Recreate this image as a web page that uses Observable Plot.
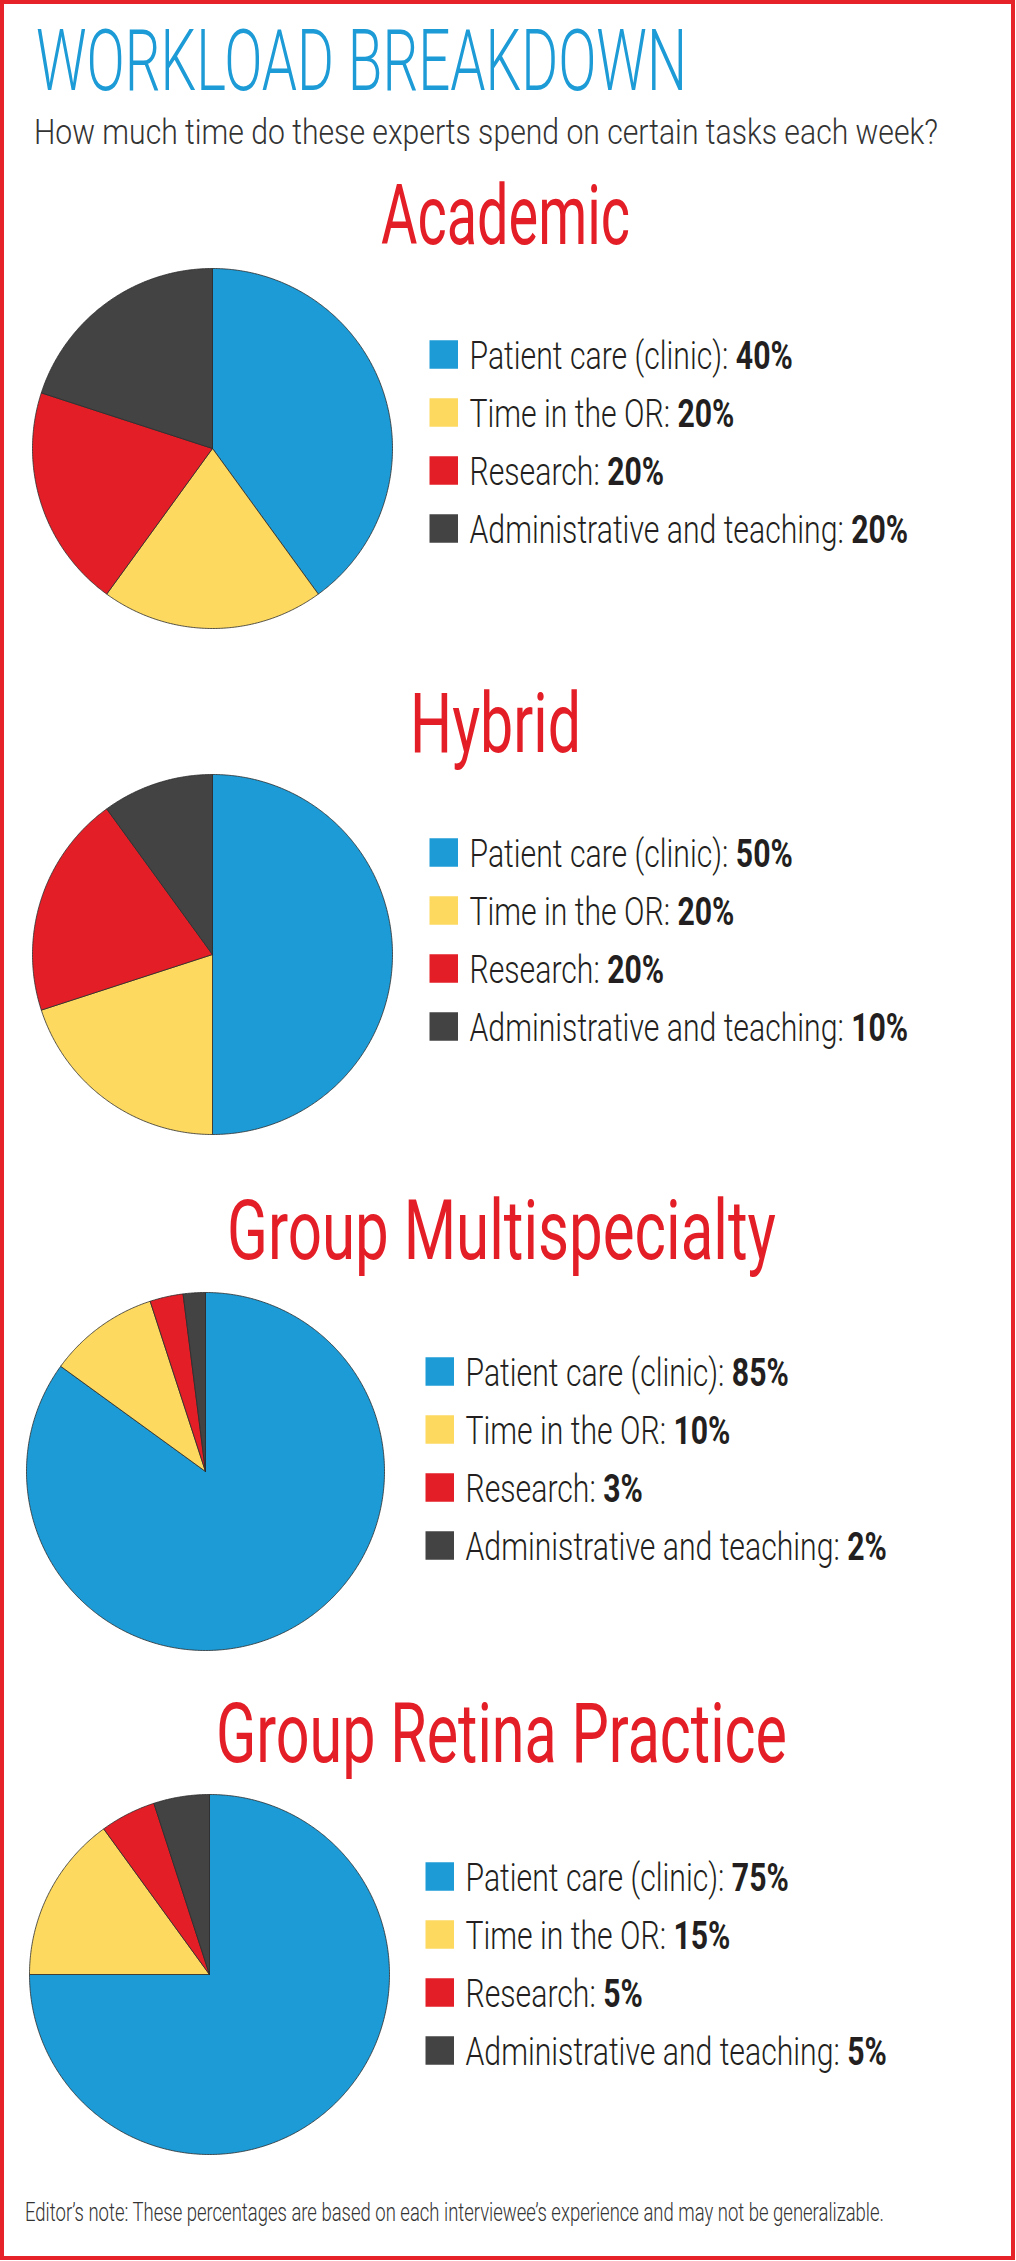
<!DOCTYPE html>
<html>
<head>
<meta charset="utf-8">
<script src="https://cdn.jsdelivr.net/npm/d3@7"></script>
<script src="https://cdn.jsdelivr.net/npm/@observablehq/plot@0.6"></script>
<style>
  html, body { margin: 0; padding: 0; background: #fff; }
  #page { position: relative; width: 1016px; height: 2261px; overflow: hidden; background: #fff; font-family: Roboto, "Noto Sans", sans-serif; }
  .txt { position: absolute; white-space: nowrap; line-height: 1; transform-origin: 0 0; font-family: Roboto, sans-serif; }
  .plotbox { position: absolute; }
  .plotbox svg { display: block; overflow: visible; background: transparent; }
  #frame { position: absolute; left: 0; top: 0; width: 1015px; height: 2260px; box-sizing: border-box; border: 4px solid #e52329; pointer-events: none; }
</style>
</head>
<body>
<div id="page"><div id="frame"></div></div>
<script>
// ---------------- data ----------------
const title = "WORKLOAD BREAKDOWN";
const subtitle = "How much time do these experts spend on certain tasks each week?";
const note = "Editor\u2019s note: These percentages are based on each interviewee\u2019s experience and may not be generalizable.";
const practices = ["Academic", "Hybrid", "Group Multispecialty", "Group Retina Practice"];
const tasks = ["Patient care (clinic)", "Time in the OR", "Research", "Administrative and teaching"];
const academic = [40, 20, 20, 20];
const hybrid = [50, 20, 20, 10];
const groupMultispecialty = [85, 10, 3, 2];
const groupRetina = [75, 15, 5, 5];
const taskColors = ["#1c9bd6", "#fdd95f", "#e41e26", "#434343"];

// ---------------- layout ----------------
const sections = [
  { name: practices[0], values: academic, titleLeft: 381, titleWidth: 249, titleBaseline: 245, cx: 212, cy: 448, r: 180, legendX: 429, row0: 354 },
  { name: practices[1], values: hybrid, titleLeft: 410, titleWidth: 171, titleBaseline: 753, cx: 212, cy: 954, r: 180, legendX: 429, row0: 852 },
  { name: practices[2], values: groupMultispecialty, titleLeft: 227, titleWidth: 549, titleBaseline: 1260, cx: 205, cy: 1471, r: 179, legendX: 425, row0: 1371 },
  { name: practices[3], values: groupRetina, titleLeft: 216, titleWidth: 571, titleBaseline: 1763, cx: 209, cy: 1974, r: 180, legendX: 425, row0: 1876 }
];
const rowStep = 58;
const legendFont = 38;
const legendSqueeze = 0.795;
const textColor = "#231f20";

const page = document.getElementById("page");
const frame = document.getElementById("frame");

function addText(str, { left, baseline, size, weight, color, width }) {
  const el = document.createElement("div");
  el.className = "txt";
  el.textContent = str;
  el.style.fontSize = size + "px";
  el.style.fontWeight = weight;
  el.style.color = color;
  el.style.top = (baseline - 0.842 * size) + "px";
  el.style.left = left + "px";
  page.insertBefore(el, frame);
  const w = el.getBoundingClientRect().width;
  el.style.transform = `scaleX(${width / w})`;
  return el;
}

function piePlot(values, r) {
  const total = d3.sum(values);
  const pts = [];
  let acc = 0;
  values.forEach((v, i) => {
    const a0 = acc / total * 2 * Math.PI;
    acc += v;
    const a1 = acc / total * 2 * Math.PI;
    const n = Math.max(2, Math.ceil((a1 - a0) / (Math.PI / 360)));
    pts.push({ task: tasks[i], x: 0, y: 0 });
    for (let j = 0; j <= n; j++) {
      const a = a0 + (a1 - a0) * j / n;
      pts.push({ task: tasks[i], x: Math.sin(a), y: Math.cos(a) });
    }
    pts.push({ task: tasks[i], x: 0, y: 0 });
  });
  const pad = 3;
  return Plot.plot({
    width: 2 * r + 2 * pad,
    height: 2 * r + 2 * pad,
    margin: pad,
    x: { domain: [-1, 1], axis: null },
    y: { domain: [-1, 1], axis: null },
    color: { domain: tasks, range: taskColors },
    marks: [
      Plot.line(pts, { x: "x", y: "y", z: "task", fill: "task", stroke: "#2b2b2b", strokeWidth: 0.8, strokeLinejoin: "round" })
    ]
  });
}

const legendTextX = 40;
const legendTopPad = 30;

// the text layer is condensed horizontally by legendSqueeze, so its x is given in un-condensed units
function legendPlot(values) {
  const side = 28.5;
  return Plot.plot({
    width: 580,
    height: legendTopPad * 2 + rowStep * 3,
    margin: 0,
    style: { fontFamily: "Roboto", background: "transparent" },
    x: { type: "identity", axis: null },
    y: { type: "point", domain: tasks, range: [legendTopPad, legendTopPad + rowStep * 3], padding: 0, axis: null },
    color: { domain: tasks, range: taskColors },
    marks: [
      Plot.dot(tasks, { x: side / 2, y: d => d, symbol: "square", r: side / Math.sqrt(Math.PI), fill: d => d, stroke: "none" }),
      Plot.text(tasks, { x: legendTextX / legendSqueeze, y: d => d, text: (d, i) => `${d}: ${values[i]}%`, textAnchor: "start", fontSize: legendFont, fontWeight: 300, fill: textColor })
    ]
  });
}

// split each legend line into a light label and a bold percentage; condense the text layer
function styleLegendText(svg, values, k) {
  const g = svg.querySelector('g[aria-label="text"]');
  const prev = g.getAttribute("transform");
  g.setAttribute("transform", `${prev ? prev + " " : ""}translate(0,2) scale(${k},1)`);
  g.querySelectorAll("text").forEach((t, i) => {
    t.textContent = "";
    const a = document.createElementNS("http://www.w3.org/2000/svg", "tspan");
    a.textContent = tasks[i] + ": ";
    a.setAttribute("font-weight", 300);
    const b = document.createElementNS("http://www.w3.org/2000/svg", "tspan");
    b.textContent = values[i] + "%";
    b.setAttribute("font-weight", 700);
    t.appendChild(a);
    t.appendChild(b);
  });
}

// ---------------- header ----------------
addText(title, { left: 36, baseline: 90, size: 86, weight: 300, color: "#1c9bd6", width: 651 });
addText(subtitle, { left: 34, baseline: 144, size: 35, weight: 300, color: "#333333", width: 904 });

// ---------------- sections ----------------
sections.forEach(s => {
  addText(s.name, { left: s.titleLeft, baseline: s.titleBaseline, size: 84, weight: 400, color: "#e41e26", width: s.titleWidth });

  const pie = piePlot(s.values, s.r);
  const pbox = document.createElement("div");
  pbox.className = "plotbox";
  pbox.style.left = (s.cx - s.r - 3) + "px";
  pbox.style.top = (s.cy - s.r - 3) + "px";
  pbox.appendChild(pie);
  page.insertBefore(pbox, frame);

  const leg = legendPlot(s.values);
  const lbox = document.createElement("div");
  lbox.className = "plotbox";
  lbox.style.left = s.legendX + "px";
  lbox.style.top = (s.row0 - legendTopPad) + "px";
  lbox.appendChild(leg);
  page.insertBefore(lbox, frame);
  styleLegendText(leg, s.values, legendSqueeze);
});

// ---------------- note ----------------
addText(note, { left: 25, baseline: 2221, size: 25, weight: 300, color: "#333333", width: 859 });
</script>
</body>
</html>
